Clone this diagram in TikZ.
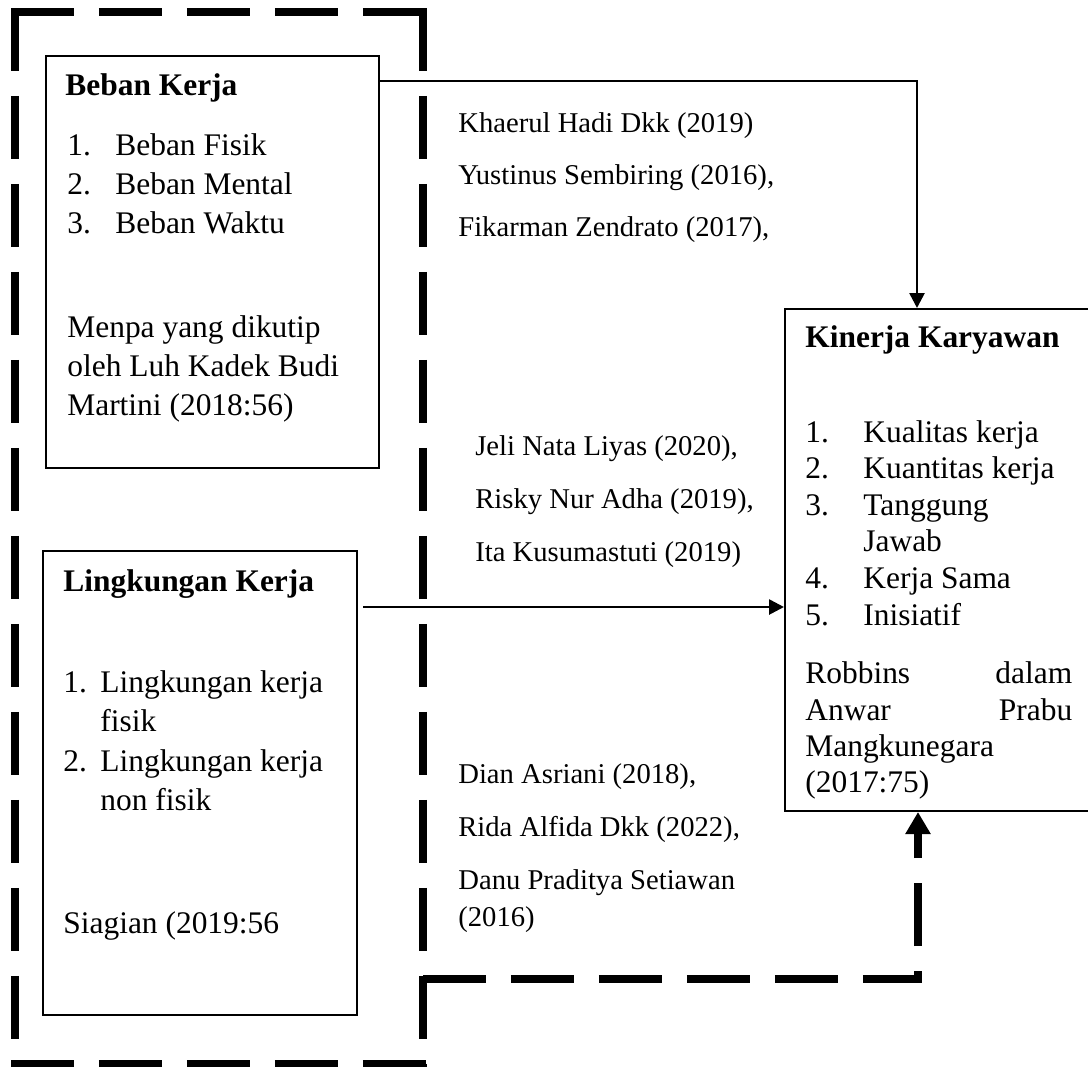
\documentclass[tikz,border=0pt]{standalone}
\usepackage{fontspec}
\setmainfont{Liberation Serif}
\usepackage{tikz}
\usetikzlibrary{arrows.meta, positioning}
\tikzset{panel/.style = {draw, line width = 1.2pt, anchor = north west, inner sep = 0pt},
         boxtext/.style = {anchor = base west, inner sep = 0pt,
                           font = \fontsize{17.9}{20}\selectfont},
         boxhead/.style = {boxtext, font = \fontsize{17.9}{20}\selectfont\bfseries},
         reftext/.style = {anchor = base west, inner sep = 0pt,
                           font = \fontsize{16.3}{19}\selectfont},
         link/.style = {-{Triangle[length = 0.3cm, width = 0.3cm]}, line width = 1.5pt},
         dashframe/.style = {line width = 0.16cm, dash pattern = on 1.26cm off 0.5cm}}

\begin{document}
\begin{tikzpicture}[x = 0.02cm, y = -0.02cm]
        \useasboundingbox (0,0) rectangle (1088,1066);

        % the three boxes
        \node[panel, minimum width = 6.66cm, minimum height = 8.24cm]  (bk) at (45,55)   {};
        \node[panel, minimum width = 6.28cm, minimum height = 9.28cm]  (lk) at (42,550)  {};
        \node[panel, minimum width = 6.12cm, minimum height = 10.04cm] (kk) at (784,308) {};

        % Beban Kerja
        \node[boxhead] (bkT) at (65,95) {Beban Kerja};
        \foreach \t [count = \i] in {Beban Fisik, Beban Mental, Beban Waktu}
          {\node[boxtext]        at (67, 116 + 39*\i)  {\i.};
           \node[boxtext] (bk\i) at (115, 116 + 39*\i) {\t};}
        \foreach \t [count = \i] in {Menpa yang dikutip, oleh Luh Kadek Budi, Martini (2018:56)}
           \node[boxtext] (bkS\i) at (67, 298 + 39*\i) {\t};

        % Lingkungan Kerja
        \node[boxhead] (lkT) at (63,591) {Lingkungan Kerja};
        \node[boxtext]       at (63,692)  {1.};
        \node[boxtext] (lk1) at (100,692) {Lingkungan kerja};
        \node[boxtext]       at (100,731) {fisik};
        \node[boxtext]       at (63,771)  {2.};
        \node[boxtext] (lk2) at (100,771) {Lingkungan kerja};
        \node[boxtext]       at (100,810) {non fisik};
        \node[boxtext] (lkS) at (63,933)  {Siagian (2019:56};

        % Kinerja Karyawan
        \node[boxhead] (kkT) at (805,347) {Kinerja Karyawan};
        \foreach \n/\t [count = \i] in {1./Kualitas kerja, 2./Kuantitas kerja, 3./Tanggung,
                                        /Jawab, 4./Kerja Sama, 5./Inisiatif}
          {\node[boxtext]        at (805, 405.4 + 36.6*\i) {\n};
           \node[boxtext] (kk\i) at (863, 405.4 + 36.6*\i) {\t};}
        \node[boxtext] (kkS1) at (805,683) {\makebox[151.9pt][s]{Robbins dalam}};
        \node[boxtext] (kkS2) at (805,720) {\makebox[151.9pt][s]{Anwar Prabu}};
        \node[boxtext] (kkS3) at (805,756) {Mangkunegara};
        \node[boxtext] (kkS4) at (805,792) {(2017:75)};

        % sources between the boxes
        \node[reftext] (r1)  at (458,132) {Khaerul Hadi Dkk (2019)};
        \node[reftext] (r2)  at (458,184) {Yustinus Sembiring (2016),};
        \node[reftext] (r3)  at (458,236) {Fikarman Zendrato (2017),};
        \node[reftext] (r4)  at (475,455) {Jeli Nata Liyas (2020),};
        \node[reftext] (r5)  at (475,508) {Risky Nur Adha (2019),};
        \node[reftext] (r6)  at (475,561) {Ita Kusumastuti (2019)};
        \node[reftext] (r7)  at (458,783) {Dian Asriani (2018),};
        \node[reftext] (r8)  at (458,836) {Rida Alfida Dkk (2022),};
        \node[reftext] (r9)  at (458,889) {Danu Praditya Setiawan};
        \node[reftext] (r10) at (458,926) {(2016)};

        % dashed frame round both X boxes
        \draw[dashframe] (11,12)   -- (427,12);
        \draw[dashframe] (11,1064) -- (427,1064);
        \draw[dashframe] (15,8)    -- (15,1070);
        \draw[dashframe] (423,8)   -- (423,1070);

        % arrows
        \coordinate (tb) at (917,81);
        \coordinate (ma) at (363,607);
        \coordinate (db) at (423,979);
        \coordinate (dk) at (918,979);
        \draw[link] (bk.north east |- tb) -- (tb) -- (tb |- kk.north);
        \draw[link] (ma) -- (ma -| kk.west);
        \draw[dashframe, -{Triangle[length = 0.44cm, width = 0.48cm]}] (db) -- (dk) -- (dk |- kk.south);
\end{tikzpicture}
\end{document}
